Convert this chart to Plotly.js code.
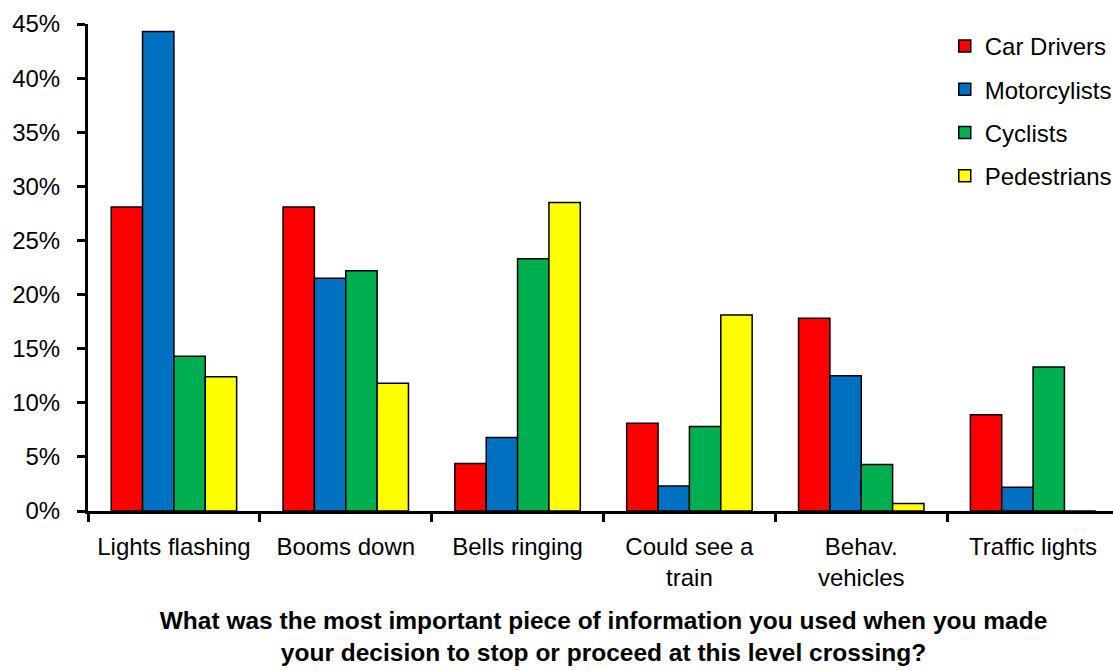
<!DOCTYPE html>
<html>
<head>
<meta charset="utf-8">
<script src="https://cdn.plot.ly/plotly-3.0.1.min.js"></script>
<style>
html,body{margin:0;padding:0;overflow:hidden;background:#fff;width:1113px;height:671px;}
#wrap{width:1113px;height:671px;overflow:hidden;}
#chart{width:1120px;height:671px;}
</style>
</head>
<body>
<div id="wrap"><div id="chart"></div></div>
<script>
const categories = ["Lights flashing", "Booms down", "Bells ringing", "Could see a<br>train", "Behav.<br>vehicles", "Traffic lights"];
const seriesNames = ["Car Drivers", "Motorcylists", "Cyclists", "Pedestrians"];
const carDrivers   = [28.1, 28.1, 4.4, 8.1, 17.8, 8.9];
const motorcylists = [44.3, 21.5, 6.8, 2.3, 12.5, 2.2];
const cyclists     = [14.3, 22.2, 23.3, 7.8, 4.3, 13.3];
const pedestrians  = [12.4, 11.8, 28.5, 18.1, 0.7, 0];
const yTickVals = [0, 5, 10, 15, 20, 25, 30, 35, 40, 45];
const yTickText = ["0%", "5%", "10%", "15%", "20%", "25%", "30%", "35%", "40%", "45%"];
const colors = ["#FF0000", "#0070C0", "#00B050", "#FFFF00"];
const values = [carDrivers, motorcylists, cyclists, pedestrians];

const FONT = "'Liberation Sans', Arial, sans-serif";

const traces = seriesNames.map((name, i) => ({
  type: "bar",
  name: name,
  x: categories,
  y: values[i],
  legendgroup: "g" + i,
  marker: {color: colors[i], line: {color: "#000", width: 1.5}},
  hoverinfo: "x+y+name"
}));

const layout = {
  width: 1120,
  height: 671,
  margin: {l: 88, r: 1, t: 24, b: 160, autoexpand: false},
  paper_bgcolor: "#fff",
  plot_bgcolor: "#fff",
  font: {family: FONT, size: 24, color: "#000"},
  barmode: "group",
  bargap: 0.27,
  bargroupgap: 0,
  showlegend: true,
  legend: {
    x: 0.831, y: 1.0, xanchor: "left", yanchor: "top",
    font: {family: FONT, size: 24, color: "#000"},
    tracegroupgap: 9,
    itemwidth: 30,
    bgcolor: "rgba(0,0,0,0)"
  },
  xaxis: {
    type: "category",
    autorange: true,
    showline: true, linecolor: "#000", linewidth: 3,
    ticks: "outside", ticklen: 8, tickwidth: 3, tickcolor: "#000",
    tickson: "boundaries",
    showgrid: false, zeroline: false,
    tickfont: {family: FONT, size: 24, color: "#000"},
    ticklabelstandoff: 12,
    fixedrange: true,
    title: {
      text: "What was the most important piece of information you used when you made<br>your decision to stop or proceed at this level crossing?",
      font: {family: FONT, size: 24.5, color: "#000", weight: "bold"},
      standoff: 22
    }
  },
  yaxis: {
    range: [0, 45],
    tickvals: yTickVals,
    ticktext: yTickText,
    showline: true, linecolor: "#000", linewidth: 3,
    ticks: "outside", ticklen: 8, tickwidth: 3, tickcolor: "#000",
    showgrid: false, zeroline: false,
    tickfont: {family: FONT, size: 24, color: "#000"},
    ticklabelstandoff: 12,
    fixedrange: true
  }
};

Plotly.newPlot("chart", traces, layout, {displayModeBar: false, staticPlot: true});
</script>
</body>
</html>
